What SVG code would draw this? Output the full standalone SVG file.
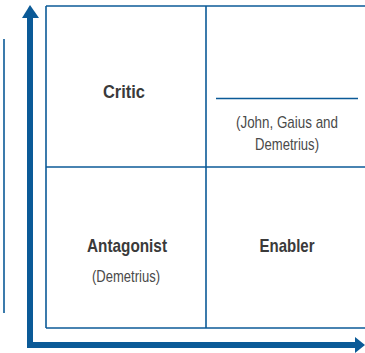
<svg xmlns="http://www.w3.org/2000/svg" width="365" height="353" viewBox="0 0 365 353">
<style>
.grid{stroke:#0b5a97;stroke-width:1.6;fill:none}
.axis{fill:#0b5a97}
.b{font-family:"Liberation Sans",Arial,sans-serif;font-weight:bold;font-size:19px;fill:#3a3a3a;text-anchor:middle}
.r{font-family:"Liberation Sans",Arial,sans-serif;font-size:17px;fill:#4a4a4a;text-anchor:middle}
</style>
<rect width="365" height="353" fill="#fff"/>
<g id="connectors">
<line class="grid" x1="4" y1="39" x2="4" y2="313"/>
<rect class="axis" x="27" y="17" width="6" height="331"/>
<polygon class="axis" points="22,18 30,5 39,18"/>
<rect class="axis" x="27" y="342" width="329" height="6"/>
<polygon class="axis" points="355,337 365,345 355,353"/>
</g>
<g id="grid">
<line class="grid" x1="46" y1="6" x2="365" y2="6"/>
<line class="grid" x1="46" y1="167" x2="365" y2="167"/>
<line class="grid" x1="46" y1="328" x2="365" y2="328"/>
<line class="grid" x1="46" y1="6" x2="46" y2="328"/>
<line class="grid" x1="206" y1="6" x2="206" y2="328"/>
</g>
<g id="critic">
<text class="b" x="124" y="98" textLength="42" lengthAdjust="spacingAndGlyphs">Critic</text>
</g>
<g id="supporter">
<line class="grid" x1="216" y1="98.5" x2="358" y2="98.5"/>
<text class="r" x="287" y="128" textLength="102" lengthAdjust="spacingAndGlyphs">(John, Gaius and</text>
<text class="r" x="287" y="150" textLength="64" lengthAdjust="spacingAndGlyphs">Demetrius)</text>
</g>
<g id="antagonist">
<text class="b" x="127" y="252" textLength="80" lengthAdjust="spacingAndGlyphs">Antagonist</text>
<text class="r" x="126" y="282" textLength="68" lengthAdjust="spacingAndGlyphs">(Demetrius)</text>
</g>
<g id="enabler">
<text class="b" x="287" y="252" textLength="55" lengthAdjust="spacingAndGlyphs">Enabler</text>
</g>
</svg>
